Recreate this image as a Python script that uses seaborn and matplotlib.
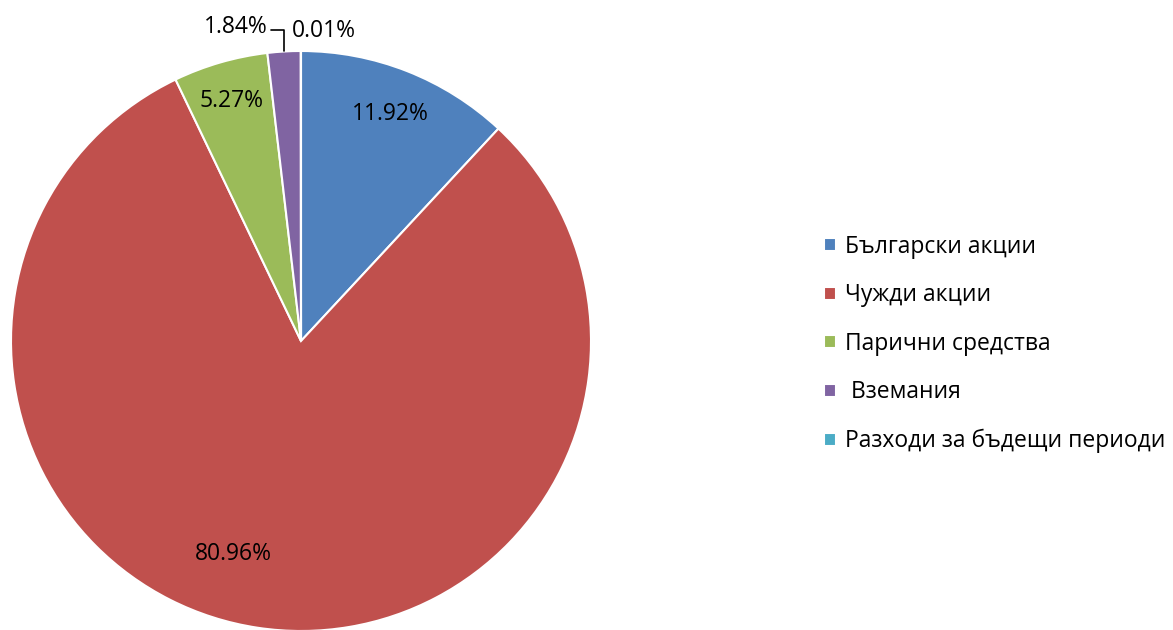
import numpy as np
import matplotlib.pyplot as plt
import seaborn as sns

# Data
categories = ["Български акции", "Чужди акции", "Парични средства", " Вземания",
              "Разходи за бъдещи периоди"]
shares = [11.92, 80.96, 5.27, 1.84, 0.01]
pct_labels = ["11.92%", "80.96%", "5.27%", "1.84%", "0.01%"]
colors = ["#4F81BD", "#C0504D", "#9BBB59", "#8064A2", "#4BACC6"]

sns.set_style("white")
plt.rcParams['font.family'] = ['Open Sans', 'DejaVu Sans']
plt.rcParams['text.color'] = 'black'

W, H = 1173, 630
FS = 16.5
fig = plt.figure(figsize=(W / 100, H / 100), dpi=100)
cx, cy, R = 301, 630 - 341, 290
ax = fig.add_axes([(cx - R) / W, (cy - R) / H, 2 * R / W, 2 * R / H])

wedges, _ = ax.pie(shares, colors=colors, startangle=90, counterclock=False,
                   radius=1.0, wedgeprops=dict(edgecolor="white", linewidth=1.5))
ax.set_xlim(-1, 1)
ax.set_ylim(-1, 1)
ax.set_aspect("equal")
ax.axis("off")

# label placement: (radius, angle offset in degrees)
place = [(0.84, 0), (0.77, -9), (0.86, 0), None, None]
for w, lab, p in zip(wedges, pct_labels, place):
    if p is None:
        continue
    ang = np.deg2rad((w.theta1 + w.theta2) / 2 + p[1])
    ax.text(p[0] * np.cos(ang), p[0] * np.sin(ang), lab, ha="center",
            va="center", fontsize=FS, color="black")

# small slices: labels above the pie
w = wedges[3]
ang = np.deg2rad((w.theta1 + w.theta2) / 2)
x0, y0 = np.cos(ang), np.sin(ang)
ax.plot([x0, x0, x0 - 0.045], [y0, y0 + 0.075, y0 + 0.075], color="black",
        lw=1.2, clip_on=False)
ax.text(x0 - 0.055, y0 + 0.085, pct_labels[3], ha="right", va="center",
        fontsize=FS, color="black", clip_on=False)
w = wedges[4]
ang = np.deg2rad((w.theta1 + w.theta2) / 2)
ax.text(np.cos(ang) - 0.03, np.sin(ang) + 0.07, pct_labels[4], ha="left",
        va="center", fontsize=FS, color="black", clip_on=False)

fig.legend(wedges, categories, loc="center left",
           bbox_to_anchor=(813 / W, 1 - 344 / H), frameon=False, fontsize=FS,
           handlelength=0.5, handleheight=0.5, handletextpad=0.4,
           labelspacing=1.07, borderpad=0, labelcolor="black")

fig.savefig("out.png", dpi=100)
